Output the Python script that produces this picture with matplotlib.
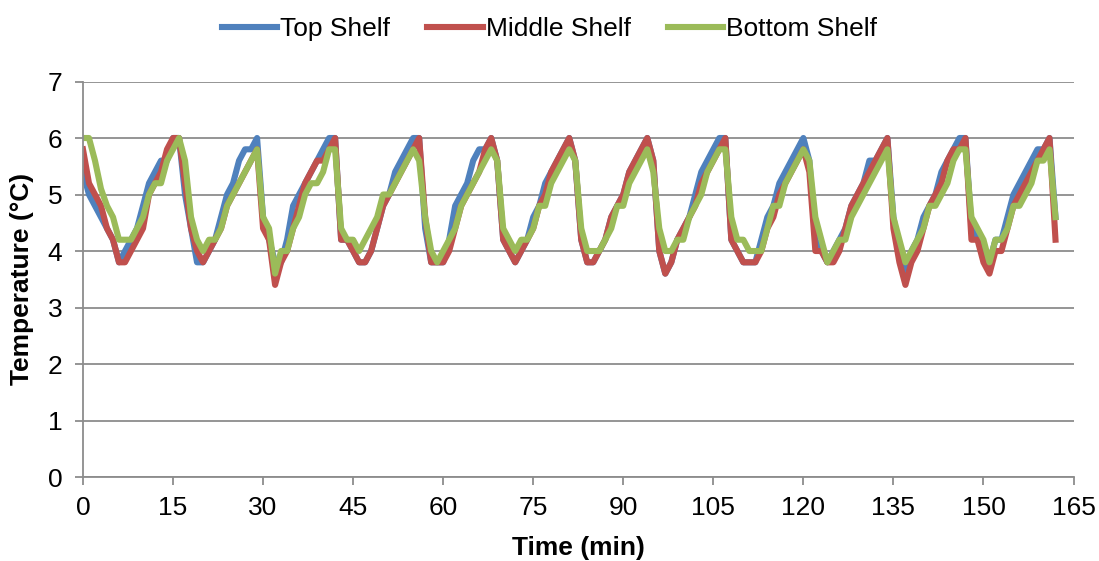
import matplotlib
matplotlib.use("Agg")
import matplotlib.pyplot as plt

plt.rcParams['font.family'] = ['Liberation Sans', 'DejaVu Sans']

# minutes since start, one reading per minute
time_min = list(range(0, 163))

top_shelf = [
    5.4, 5.0, 4.8, 4.6, 4.4, 4.2, 3.8, 4.0, 4.2, 4.4, 4.8, 5.2, 5.4, 5.6, 5.6, 6.0, 6.0, 5.0, 4.4, 3.8,
    3.8, 4.0, 4.2, 4.6, 5.0, 5.2, 5.6, 5.8, 5.8, 6.0, 4.6, 4.2, 3.8, 3.8, 4.2, 4.8, 5.0, 5.2, 5.4, 5.6,
    5.8, 6.0, 6.0, 4.2, 4.2, 4.0, 3.8, 3.8, 4.0, 4.4, 4.8, 5.0, 5.4, 5.6, 5.8, 6.0, 6.0, 4.4, 3.8, 3.8,
    3.8, 4.2, 4.8, 5.0, 5.2, 5.6, 5.8, 5.8, 6.0, 5.6, 4.2, 4.0, 3.8, 4.0, 4.2, 4.6, 4.8, 5.2, 5.4, 5.6,
    5.8, 6.0, 5.6, 4.2, 3.8, 3.8, 4.0, 4.2, 4.6, 4.8, 5.0, 5.4, 5.6, 5.8, 6.0, 5.6, 4.0, 3.6, 3.8, 4.2,
    4.4, 4.6, 5.0, 5.4, 5.6, 5.8, 6.0, 6.0, 4.2, 4.0, 3.8, 3.8, 3.8, 4.2, 4.6, 4.8, 5.2, 5.4, 5.6, 5.8,
    6.0, 5.6, 4.2, 4.0, 3.8, 4.0, 4.2, 4.4, 4.8, 5.0, 5.2, 5.6, 5.6, 5.8, 6.0, 4.6, 4.0, 3.6, 4.0, 4.2,
    4.6, 4.8, 5.0, 5.4, 5.6, 5.8, 6.0, 6.0, 4.4, 4.2, 4.0, 3.8, 4.2, 4.2, 4.6, 5.0, 5.2, 5.4, 5.6, 5.8,
    5.8, 6.0, 4.6,
]

middle_shelf = [
    5.8, 5.2, 5.0, 4.8, 4.4, 4.2, 3.8, 3.8, 4.0, 4.2, 4.4, 5.0, 5.2, 5.4, 5.8, 6.0, 6.0, 5.2, 4.4, 4.0,
    3.8, 4.0, 4.2, 4.4, 4.8, 5.0, 5.2, 5.4, 5.6, 5.8, 4.4, 4.2, 3.4, 3.8, 4.0, 4.4, 4.8, 5.2, 5.4, 5.6,
    5.6, 5.8, 6.0, 4.2, 4.2, 4.0, 3.8, 3.8, 4.0, 4.4, 4.8, 5.0, 5.2, 5.4, 5.6, 5.8, 6.0, 4.6, 3.8, 3.8,
    3.8, 4.0, 4.4, 4.8, 5.0, 5.2, 5.4, 5.8, 6.0, 5.6, 4.2, 4.0, 3.8, 4.0, 4.2, 4.4, 4.8, 5.0, 5.4, 5.6,
    5.8, 6.0, 5.6, 4.2, 3.8, 3.8, 4.0, 4.2, 4.6, 4.8, 5.0, 5.4, 5.6, 5.8, 6.0, 5.6, 4.0, 3.6, 3.8, 4.2,
    4.4, 4.6, 4.8, 5.2, 5.4, 5.6, 5.8, 6.0, 4.2, 4.0, 3.8, 3.8, 3.8, 4.0, 4.4, 4.6, 5.0, 5.2, 5.4, 5.6,
    5.8, 5.4, 4.0, 4.0, 3.8, 3.8, 4.0, 4.4, 4.8, 5.0, 5.2, 5.4, 5.6, 5.8, 6.0, 4.4, 3.8, 3.4, 3.8, 4.0,
    4.4, 4.8, 5.0, 5.2, 5.6, 5.8, 5.8, 6.0, 4.2, 4.2, 3.8, 3.6, 4.0, 4.0, 4.4, 4.8, 5.0, 5.2, 5.4, 5.6,
    5.8, 6.0, 4.2,
]

bottom_shelf = [
    6.0, 6.0, 5.6, 5.1, 4.8, 4.6, 4.2, 4.2, 4.2, 4.4, 4.6, 5.0, 5.2, 5.2, 5.6, 5.8, 6.0, 5.6, 4.6, 4.2,
    4.0, 4.2, 4.2, 4.4, 4.8, 5.0, 5.2, 5.4, 5.6, 5.8, 4.6, 4.4, 3.6, 4.0, 4.0, 4.4, 4.6, 5.0, 5.2, 5.2,
    5.4, 5.8, 5.8, 4.4, 4.2, 4.2, 4.0, 4.2, 4.4, 4.6, 5.0, 5.0, 5.2, 5.4, 5.6, 5.8, 5.6, 4.6, 4.0, 3.8,
    4.0, 4.2, 4.4, 4.8, 5.0, 5.2, 5.4, 5.6, 5.8, 5.6, 4.4, 4.2, 4.0, 4.2, 4.2, 4.4, 4.8, 4.8, 5.2, 5.4,
    5.6, 5.8, 5.6, 4.4, 4.0, 4.0, 4.0, 4.2, 4.4, 4.8, 4.8, 5.2, 5.4, 5.6, 5.8, 5.4, 4.4, 4.0, 4.0, 4.2,
    4.2, 4.6, 4.8, 5.0, 5.4, 5.6, 5.8, 5.8, 4.6, 4.2, 4.2, 4.0, 4.0, 4.0, 4.4, 4.8, 4.8, 5.2, 5.4, 5.6,
    5.8, 5.6, 4.6, 4.2, 3.8, 4.0, 4.2, 4.2, 4.6, 4.8, 5.0, 5.2, 5.4, 5.6, 5.8, 4.6, 4.2, 3.8, 4.0, 4.2,
    4.4, 4.8, 4.8, 5.0, 5.2, 5.6, 5.8, 5.8, 4.6, 4.4, 4.2, 3.8, 4.2, 4.2, 4.4, 4.8, 4.8, 5.0, 5.2, 5.6,
    5.6, 5.8, 4.6,
]

x_ticks = list(range(0, 166, 15))
y_ticks = list(range(0, 8))

grid_col = '#8c8c8c'
fs = 19

fig = plt.figure(figsize=(10.99, 5.61), dpi=100)
ax = fig.add_axes([0.0755, 0.1497, 0.9013, 0.705])

ax.plot(time_min, top_shelf, color='#4f81bd', lw=4.4, label='Top Shelf')
ax.plot(time_min, middle_shelf, color='#c0504d', lw=4.4, label='Middle Shelf')
ax.plot(time_min, bottom_shelf, color='#9bbb59', lw=4.4, label='Bottom Shelf')

ax.set_xlim(0, 165)
ax.set_ylim(0, 7)
ax.set_xticks(x_ticks)
ax.set_yticks(y_ticks)
ax.grid(axis='y', color=grid_col, lw=1.3)
ax.set_axisbelow(True)

for side in ['top', 'right']:
    ax.spines[side].set_visible(False)
for side in ['left', 'bottom']:
    ax.spines[side].set_color(grid_col)
    ax.spines[side].set_linewidth(1.3)

ax.tick_params(axis='both', colors=grid_col, labelcolor='black', labelsize=fs,
               length=6, width=1.3)
ax.tick_params(axis='x', pad=8)
ax.tick_params(axis='y', pad=9)

ax.set_xlabel('Time (min)', fontsize=fs, fontweight='bold')
ax.set_ylabel('Temperature (°C)', fontsize=fs, fontweight='bold')
ax.xaxis.set_label_coords(0.5, -0.15)
ax.yaxis.set_label_coords(-0.049, 0.5)

fig.legend(loc='center', bbox_to_anchor=(0.5, 0.948), ncol=3, frameon=False,
           fontsize=fs, handlelength=2.1, columnspacing=1.4, handletextpad=0.12,
           borderpad=0.2)

fig.savefig('out.png', dpi=100)
